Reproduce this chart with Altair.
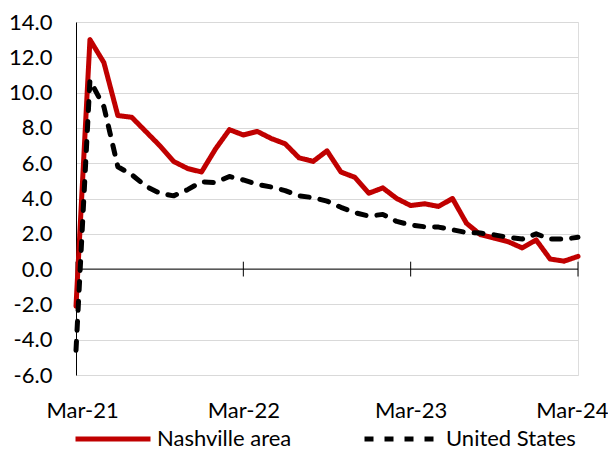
import altair as alt
import pandas as pd

# ---- data ----
months = list(range(37))  # Mar-21 .. Mar-24, monthly
nashville = [-2.1, 13.0, 11.7, 8.7, 8.6, 7.8, 7.0, 6.1, 5.7, 5.5, 6.8, 7.9,
             7.6, 7.8, 7.4, 7.1, 6.3, 6.1, 6.7, 5.5, 5.2, 4.3, 4.6, 4.0,
             3.6, 3.7, 3.55, 4.0, 2.6, 1.95, 1.75, 1.55, 1.2, 1.65, 0.57, 0.45,
             0.72]
united_states = [-4.6, 10.7, 9.2, 5.8, 5.35, 4.7, 4.3, 4.15, 4.5, 4.95, 4.9, 5.25,
                 5.05, 4.8, 4.65, 4.45, 4.15, 4.05, 3.85, 3.5, 3.2, 3.0, 3.1, 2.7,
                 2.5, 2.4, 2.38, 2.23, 2.07, 2.04, 1.94, 1.8, 1.7, 2.0, 1.7, 1.7,
                 1.8]
series_names = ["Nashville area", "United States"]
tick_months = [0, 12, 24, 36]
tick_labels = ["Mar-21", "Mar-22", "Mar-23", "Mar-24"]
y_ticks = [-6, -4, -2, 0, 2, 4, 6, 8, 10, 12, 14]

df = pd.DataFrame({
    "month": months + months,
    "value": nashville + united_states,
    "series": [series_names[0]] * len(months) + [series_names[1]] * len(months),
})
ticks_df = pd.DataFrame({"month": tick_months})
zero_df = pd.DataFrame({"value": [0]})

FONT = "Lato"
FS = 22

label_expr = "[" + ",".join(f"'{l}'" for l in tick_labels) + "][round(datum.value / 12)]"

x_enc = alt.X(
    "month:Q",
    scale=alt.Scale(domain=[0, 36], nice=False, zero=False),
    axis=alt.Axis(values=tick_months, tickCount=len(tick_months) + 10,
                  labelExpr=label_expr, title=None,
                  domain=False, ticks=False, grid=False, labelFontSize=FS,
                  labelFont=FONT, labelPadding=25, labelColor="#000000",
                  labelFlush=True, labelFlushOffset=30,
                  labelOverlap=False, labelBound=False),
)
y_enc = alt.Y(
    "value:Q",
    scale=alt.Scale(domain=[-6, 14], nice=False),
    axis=alt.Axis(values=y_ticks, tickCount=len(y_ticks) + 10,
                  labelExpr="replace(format(datum.value, '.1f'), '\u2212', '-')",
                  title=None, ticks=False, domainColor="#000000", domainWidth=1,
                  gridColor="#d9d9d9", gridWidth=1, labelFontSize=FS,
                  labelFont=FONT, labelPadding=24, labelColor="#000000",
                  labelOverlap=False, labelFlush=False, labelBound=False),
)

zero_line = alt.Chart(zero_df).mark_rule(color="#000000", strokeWidth=1).encode(
    y=y_enc
)

x_ticks = alt.Chart(ticks_df).mark_rule(color="#000000", strokeWidth=1).encode(
    x=x_enc,
    y=alt.datum(-0.42),
    y2=alt.datum(0.42),
)

legend = alt.Legend(
    title=None, orient="none", legendX=-3, legendY=377, direction="horizontal",
    symbolType="stroke", symbolSize=5625, symbolStrokeWidth=5,
    labelFontSize=FS, labelFont=FONT, labelOffset=4, columnPadding=62,
    labelColor="#000000",
)

lines = alt.Chart(df).mark_line(strokeWidth=5, strokeCap="round", strokeJoin="round").encode(
    x=x_enc,
    y=y_enc,
    color=alt.Color("series:N",
                    scale=alt.Scale(domain=series_names, range=["#c00000", "#000000"]),
                    legend=legend),
    strokeDash=alt.StrokeDash("series:N",
                              scale=alt.Scale(domain=series_names, range=[[1, 0], [9, 11]]),
                              legend=legend),
)

chart = alt.layer(zero_line, x_ticks, lines).properties(
    width=502,
    height=353,
    autosize=alt.AutoSizeParams(type="none"),
    padding={"left": 68, "top": 14, "right": 30, "bottom": 74},
).configure_view(
    stroke="#d9d9d9", strokeWidth=1
).configure(font=FONT)

chart.save("out.html", embed_options={"renderer": "svg", "actions": False})
